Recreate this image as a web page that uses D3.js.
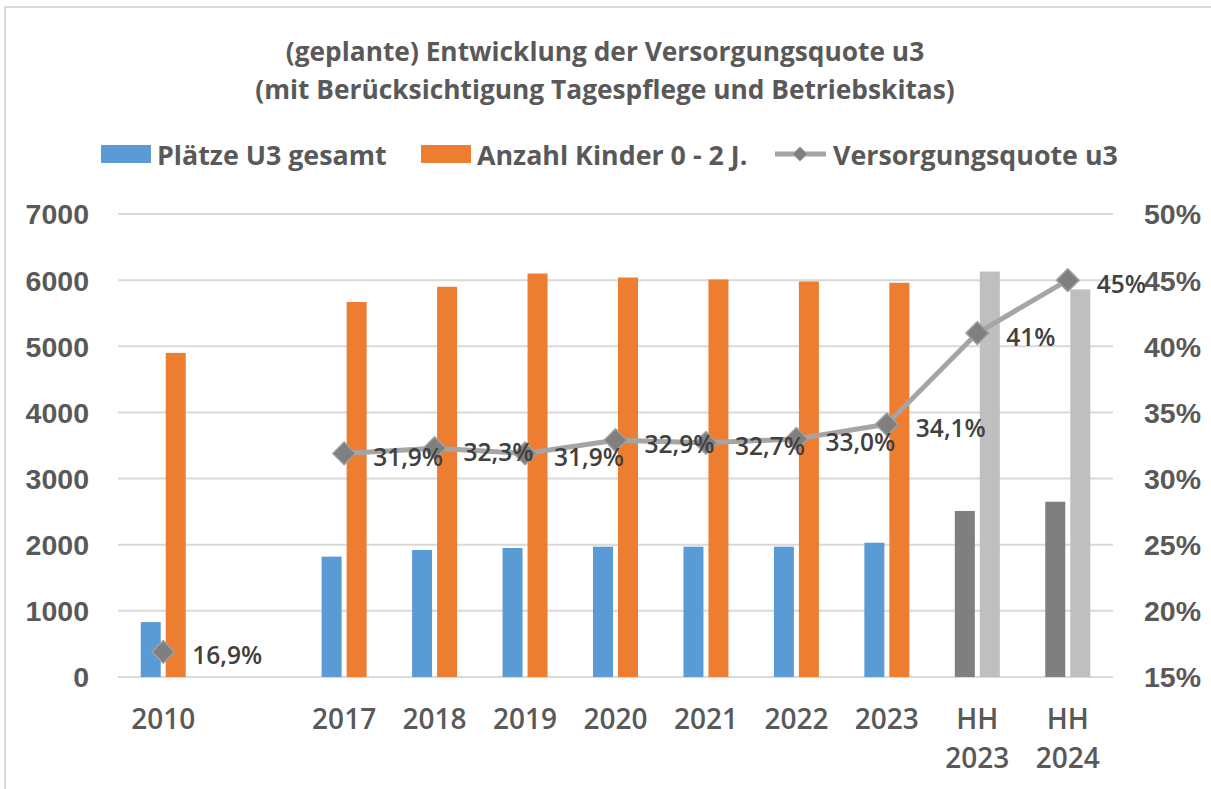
<!DOCTYPE html>
<html>
<head>
<meta charset="utf-8">
<script src="https://cdn.jsdelivr.net/npm/d3@7"></script>
<style>
  html, body { margin: 0; padding: 0; background: #fff; }
  svg { display: block; font-family: "Open Sans", "DejaVu Sans", sans-serif; }
</style>
</head>
<body>
<svg id="chart" width="1211" height="789"></svg>
<script>
// Versorgungsquote u3 - bars + line, two y axes

// categories ("" = empty slot between 2010 and 2017)
const categories = ["2010", "", "2017", "2018", "2019", "2020", "2021", "2022", "2023", "HH 2023", "HH 2024"];
const seriesNames = ["Plätze U3 gesamt", "Anzahl Kinder 0 - 2 J.", "Versorgungsquote u3"];
const plaetzeU3 = [830, null, 1820, 1920, 1950, 1970, 1970, 1970, 2030, 2510, 2650];
const kinder0bis2 = [4900, null, 5670, 5900, 6100, 6040, 6010, 5980, 5960, 6130, 5860];
const quote = [0.169, null, 0.319, 0.323, 0.319, 0.329, 0.327, 0.330, 0.341, 0.41, 0.45];
const quoteLabels = ["16,9%", "", "31,9%", "32,3%", "31,9%", "32,9%", "32,7%", "33,0%", "34,1%", "41%", "45%"];
const leftTicks = [0, 1000, 2000, 3000, 4000, 5000, 6000, 7000];
const rightTicks = [0.15, 0.20, 0.25, 0.30, 0.35, 0.40, 0.45, 0.50];
const titleLines = ["(geplante) Entwicklung der Versorgungsquote u3", "(mit Berücksichtigung Tagespflege und Betriebskitas)"];

const svg = d3.select("#chart");
const plot = { left: 118, right: 1113, top: 214, bottom: 677 };

const colBlue = "#5b9bd5", colOrange = "#ed7d31";
const colDark = "#7f7f7f", colLight = "#bfbfbf";
const colLine = "#a5a5a5", colText = "#595959", colLabel = "#404040";

// frame
svg.append("rect")
    .attr("x", 5).attr("y", 7).attr("width", 1240).attr("height", 820)
    .attr("fill", "none").attr("stroke", "#d9d9d9").attr("stroke-width", 2);

// scales
const x = d3.scaleBand().domain(categories).range([plot.left, plot.right]);
const x1 = d3.scaleBand().domain([0, 1]).range([-22.5, 22.5]).paddingInner(0.2);
const y = d3.scaleLinear().domain([0, 7000]).range([plot.bottom, plot.top]);
const y2 = d3.scaleLinear().domain([0.15, 0.5]).range([plot.bottom, plot.top]);
const cx = c => x(c) + x.bandwidth() / 2;

// gridlines
svg.append("g").selectAll("line")
    .data(leftTicks)
    .join("line")
    .attr("x1", plot.left).attr("x2", plot.right)
    .attr("y1", d => y(d)).attr("y2", d => y(d))
    .attr("stroke", "#d9d9d9").attr("stroke-width", 2);

// left axis
const yAxis = svg.append("g")
    .attr("transform", `translate(${plot.left - 29},0)`)
    .call(d3.axisLeft(y).tickValues(leftTicks).tickSize(0).tickPadding(0).tickFormat(d3.format("d")));
yAxis.select(".domain").remove();
yAxis.selectAll("text")
    .attr("fill", colText).attr("font-size", 28.5).attr("font-weight", 600)
    .attr("dy", "0.35em");

// right axis
const y2Axis = svg.append("g")
    .attr("transform", `translate(${plot.right + 31},0)`)
    .call(d3.axisRight(y2).tickValues(rightTicks).tickSize(0).tickPadding(0).tickFormat(d3.format(".0%")));
y2Axis.select(".domain").remove();
y2Axis.selectAll("text")
    .attr("fill", colText).attr("font-size", 28.5).attr("font-weight", 600)
    .attr("dy", "0.35em");

// x axis labels (HH labels on two lines)
const xLab = svg.append("g");
categories.forEach(c => {
    if (!c) return;
    const parts = c.split(" ");
    const t = xLab.append("text")
        .attr("x", cx(c)).attr("y", 718)
        .attr("text-anchor", "middle").attr("dominant-baseline", "central")
        .attr("fill", colText).attr("font-size", 28).attr("font-weight", 600);
    parts.forEach((p, i) => {
        t.append("tspan").attr("x", cx(c)).attr("dy", i === 0 ? 0 : 39).text(p);
    });
});

// bars
const isPlanned = c => c.startsWith("HH");
const barData = [];
categories.forEach((c, i) => {
    if (plaetzeU3[i] != null) barData.push({ c, s: 0, v: plaetzeU3[i] });
    if (kinder0bis2[i] != null) barData.push({ c, s: 1, v: kinder0bis2[i] });
});
svg.append("g").selectAll("rect")
    .data(barData)
    .join("rect")
    .attr("x", d => cx(d.c) + x1(d.s))
    .attr("width", x1.bandwidth())
    .attr("y", d => y(d.v))
    .attr("height", d => y(0) - y(d.v))
    .attr("fill", d => isPlanned(d.c) ? (d.s === 0 ? colDark : colLight) : (d.s === 0 ? colBlue : colOrange));

// line: 2010 point stands alone, the rest are connected
const pts = categories.map((c, i) => ({ c, v: quote[i], lab: quoteLabels[i] })).filter(d => d.v != null);
const linePts = pts.filter(d => d.c !== "2010");
svg.append("path")
    .datum(linePts)
    .attr("fill", "none").attr("stroke", colLine).attr("stroke-width", 5)
    .attr("stroke-linejoin", "round")
    .attr("d", d3.line().x(d => cx(d.c)).y(d => y2(d.v)));

const diamond = d3.symbol().type(d3.symbolDiamond2).size(330);
svg.append("g").selectAll("path")
    .data(pts)
    .join("path")
    .attr("transform", d => `translate(${cx(d.c)},${y2(d.v)})`)
    .attr("d", diamond)
    .attr("fill", colDark).attr("stroke", "#a0a0a0").attr("stroke-width", 1.5);

svg.append("g").selectAll("text")
    .data(pts)
    .join("text")
    .attr("x", d => cx(d.c) + 29)
    .attr("y", d => y2(d.v) + 3)
    .attr("dominant-baseline", "central")
    .attr("fill", colLabel).attr("font-size", 24.5).attr("font-weight", 600)
    .text(d => d.lab);

// title
svg.append("g").selectAll("text")
    .data(titleLines)
    .join("text")
    .attr("x", 605).attr("y", (d, i) => 51 + i * 38)
    .attr("text-anchor", "middle").attr("dominant-baseline", "central")
    .attr("fill", colText).attr("font-size", 26.3).attr("font-weight", 700)
    .text(d => d);

// legend
const leg = svg.append("g");
const legY = 154;
leg.append("rect").attr("x", 101).attr("y", legY - 9).attr("width", 50).attr("height", 18).attr("fill", colBlue);
leg.append("text").attr("x", 157).attr("y", legY).text(seriesNames[0]);
leg.append("rect").attr("x", 421).attr("y", legY - 9).attr("width", 50).attr("height", 18).attr("fill", colOrange);
leg.append("text").attr("x", 477).attr("y", legY).text(seriesNames[1]);
leg.append("line").attr("x1", 775).attr("x2", 826).attr("y1", legY).attr("y2", legY)
    .attr("stroke", colLine).attr("stroke-width", 5);
leg.append("path").attr("transform", `translate(800,${legY})`)
    .attr("d", d3.symbol().type(d3.symbolDiamond2).size(130))
    .attr("fill", colDark).attr("stroke", "#a0a0a0");
leg.append("text").attr("x", 833).attr("y", legY).text(seriesNames[2]);
leg.selectAll("text")
    .attr("dominant-baseline", "central")
    .attr("fill", colText).attr("font-size", 26.8).attr("font-weight", 700);
</script>
</body>
</html>
